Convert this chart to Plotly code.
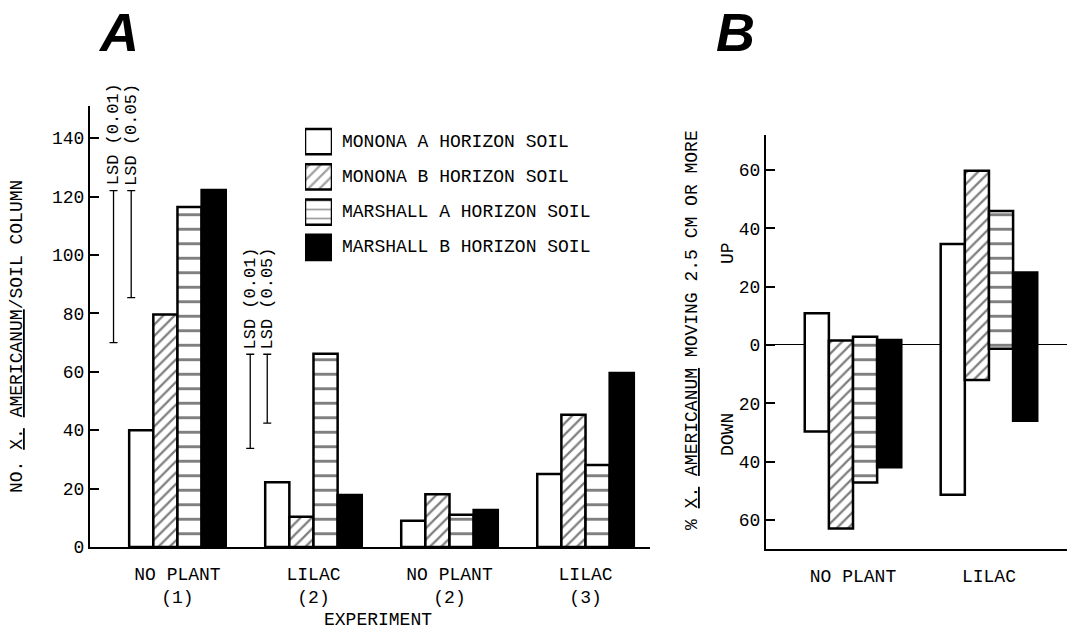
import plotly.graph_objects as go

# ---------------- data ----------------
experiments = ["NO PLANT<br>(1)", "LILAC<br>(2)", "NO PLANT<br>(2)", "LILAC<br>(3)"]
soils = ["MONONA A HORIZON SOIL", "MONONA B HORIZON SOIL",
         "MARSHALL A HORIZON SOIL", "MARSHALL B HORIZON SOIL"]

# Panel A: number of X. americanum per soil column
monona_a = [40, 22.2, 9, 25]
monona_b = [79.6, 10.4, 18.1, 45.3]
marshall_a = [116.4, 66.2, 11, 28.1]
marshall_b = [122.2, 17.8, 12.7, 59.6]

# LSD ranges (panel A)
lsd_labels = ["LSD (0.01)", "LSD (0.05)", "LSD (0.01)", "LSD (0.05)"]
lsd_pos = [-0.47, -0.34, 0.535, 0.66]
lsd_high = [122, 122, 66, 66]
lsd_low = [70, 85.4, 33.8, 42.4]

# Panel B: % moving 2.5 cm or more (up / down)
plants = ["NO PLANT", "LILAC"]
up_monona_a = [10.9, 34.6]
up_monona_b = [1.5, 59.7]
up_marshall_a = [2.8, 45.9]
up_marshall_b = [1.7, 24.8]
down_monona_a = [29.7, 51.4]
down_monona_b = [63, 12]
down_marshall_a = [47.2, 1.3]
down_marshall_b = [42, 26]

ticks_a = [0, 20, 40, 60, 80, 100, 120, 140]
ticks_b = [-60, -40, -20, 0, 20, 40, 60]
ticktext_b = ["60", "40", "20", "0", "20", "40", "60"]

# ---------------- styling ----------------
W, H = 1073, 631
MONO = "Liberation Mono, Courier New, monospace"
FS = 18
fills = ["white", "white", "white", "black"]
shapes = ["", "/", "-", ""]
psizes = [8, 8, 14.5, 8]
psolid = [0.2, 0.28, 0.2, 0.2]


def px(x):
    return x / W


def py(y):
    return 1 - y / H


fig = go.Figure()

series_a = [monona_a, monona_b, marshall_a, marshall_b]
for i, vals in enumerate(series_a):
    fig.add_trace(go.Bar(
        x=list(range(len(experiments))), y=vals, name=soils[i],
        marker=dict(color=fills[i], line=dict(color="black", width=2.5),
                    pattern=dict(shape=shapes[i], fgcolor="black", bgcolor=fills[i],
                                 size=psizes[i], solidity=psolid[i])),
        xaxis="x", yaxis="y", showlegend=False))

ups = [up_monona_a, up_monona_b, up_marshall_a, up_marshall_b]
downs = [down_monona_a, down_monona_b, down_marshall_a, down_marshall_b]
for i in range(4):
    fig.add_trace(go.Bar(
        x=list(range(len(plants))),
        y=[u + d for u, d in zip(ups[i], downs[i])],
        base=[-d for d in downs[i]], name=soils[i],
        marker=dict(color=fills[i], line=dict(color="black", width=2.5),
                    pattern=dict(shape=shapes[i], fgcolor="black", bgcolor=fills[i],
                                 size=psizes[i], solidity=psolid[i])),
        xaxis="x2", yaxis="y2", showlegend=False))

# LSD range bars
fig.add_trace(go.Scatter(
    x=lsd_pos, y=[(h + l) / 2 for h, l in zip(lsd_high, lsd_low)],
    mode="markers", marker=dict(size=1, color="rgba(0,0,0,0)"),
    error_y=dict(type="data", array=[(h - l) / 2 for h, l in zip(lsd_high, lsd_low)],
                 color="black", thickness=1.3, width=4),
    xaxis="x", yaxis="y", showlegend=False, hoverinfo="skip"))

# legend swatches (drawn on a small auxiliary axis)
fig.add_trace(go.Bar(
    x=[1, 1, 1, 1], y=[0, 1, 2, 3], orientation="h",
    marker=dict(color=fills, line=dict(color="black", width=2.5),
                pattern=dict(shape=shapes, fgcolor="black", bgcolor=fills,
                             size=[8, 8, 9, 8], solidity=psolid)),
    xaxis="x3", yaxis="y3", showlegend=False, hoverinfo="skip"))

annotations = []
for i, s in enumerate(soils):
    annotations.append(dict(text=s, x=px(340), y=i, xref="paper", yref="y3",
                            xanchor="left", yanchor="middle", showarrow=False,
                            font=dict(family=MONO, size=FS, color="black")))
for xp, lab, hi in zip(lsd_pos, lsd_labels, lsd_high):
    annotations.append(dict(text=lab, x=xp, y=hi, xref="x", yref="y", textangle=-90,
                            xanchor="center", yanchor="bottom", yshift=3, showarrow=False,
                            font=dict(family=MONO, size=FS - 1, color="black")))

common = dict(xref="paper", yref="paper", showarrow=False)
annotations += [
    dict(text="<b><i>A</i></b>", x=px(118), y=1, xanchor="center", yanchor="top",
         font=dict(family="Liberation Sans, Arial, sans-serif", size=54, color="black"), **common),
    dict(text="<b><i>B</i></b>", x=px(735), y=1, xanchor="center", yanchor="top",
         font=dict(family="Liberation Sans, Arial, sans-serif", size=54, color="black"), **common),
    dict(text="NO. <u>X.</u> <u>AMERICANUM</u>/SOIL COLUMN", x=px(17), y=py(337),
         textangle=-90, xanchor="center", yanchor="middle",
         font=dict(family=MONO, size=FS, color="black"), **common),
    dict(text="% <u>X.</u> <u>AMERICANUM</u> MOVING 2.5 CM OR MORE", x=px(692), y=py(330),
         textangle=-90, xanchor="center", yanchor="middle",
         font=dict(family=MONO, size=FS, color="black"), **common),
    dict(text="UP", x=px(728), y=py(253), textangle=-90, xanchor="center", yanchor="middle",
         font=dict(family=MONO, size=FS, color="black"), **common),
    dict(text="DOWN", x=px(728), y=py(435), textangle=-90, xanchor="center", yanchor="middle",
         font=dict(family=MONO, size=FS, color="black"), **common),
    dict(text="EXPERIMENT", x=px(378), y=py(620), xanchor="center", yanchor="middle",
         font=dict(family=MONO, size=FS, color="black"), **common),
]

axis_font = dict(family=MONO, size=FS, color="black")
fig.update_layout(
    width=W, height=H, margin=dict(l=0, r=0, t=0, b=0, pad=0, autoexpand=False),
    paper_bgcolor="white", plot_bgcolor="white",
    barmode="group", bargap=0.29, bargroupgap=0,
    font=axis_font, showlegend=False,
    annotations=annotations,
    xaxis=dict(domain=[px(90), px(650)], range=[-0.643, 3.474],
               tickvals=list(range(len(experiments))), ticktext=experiments,
               showline=True, linecolor="black", linewidth=2, ticks="",
               ticklabelstandoff=9, automargin=False,
               showgrid=False, zeroline=False, tickfont=axis_font, anchor="y"),
    yaxis=dict(domain=[py(547), py(106)], range=[0, 151], tickvals=ticks_a,
               showline=True, linecolor="black", linewidth=2, ticks="inside",
               ticklen=9, tickwidth=1.5, tickcolor="black", automargin=False,
               showgrid=False, zeroline=False, tickfont=axis_font, anchor="x"),
    xaxis2=dict(domain=[px(766), px(1067)], range=[-0.64, 1.574],
                tickvals=list(range(len(plants))), ticktext=plants,
                showline=True, linecolor="black", linewidth=2, ticks="",
                ticklabelstandoff=9, automargin=False,
                showgrid=False, zeroline=False, tickfont=axis_font, anchor="y2"),
    yaxis2=dict(domain=[py(549), py(135)], range=[-70, 72], tickvals=ticks_b,
                ticktext=ticktext_b, automargin=False,
                showline=True, linecolor="black", linewidth=2, ticks="inside",
                ticklen=9, tickwidth=1.5, tickcolor="black",
                showgrid=False, zeroline=True, zerolinecolor="black", zerolinewidth=1.3,
                tickfont=axis_font, anchor="x2"),
    xaxis3=dict(domain=[px(305), px(332)], range=[0, 1], visible=False, anchor="y3",
                automargin=False),
    yaxis3=dict(domain=[py(265), py(124)], range=[3.5, -0.5], visible=False, anchor="x3",
                automargin=False),
)

fig.write_html(
    "out.html",
    config={"displayModeBar": False},
    post_script=("document.body.style.margin='0';"
                 "document.body.style.overflow='hidden';"
                 "document.documentElement.style.overflow='hidden';"))
